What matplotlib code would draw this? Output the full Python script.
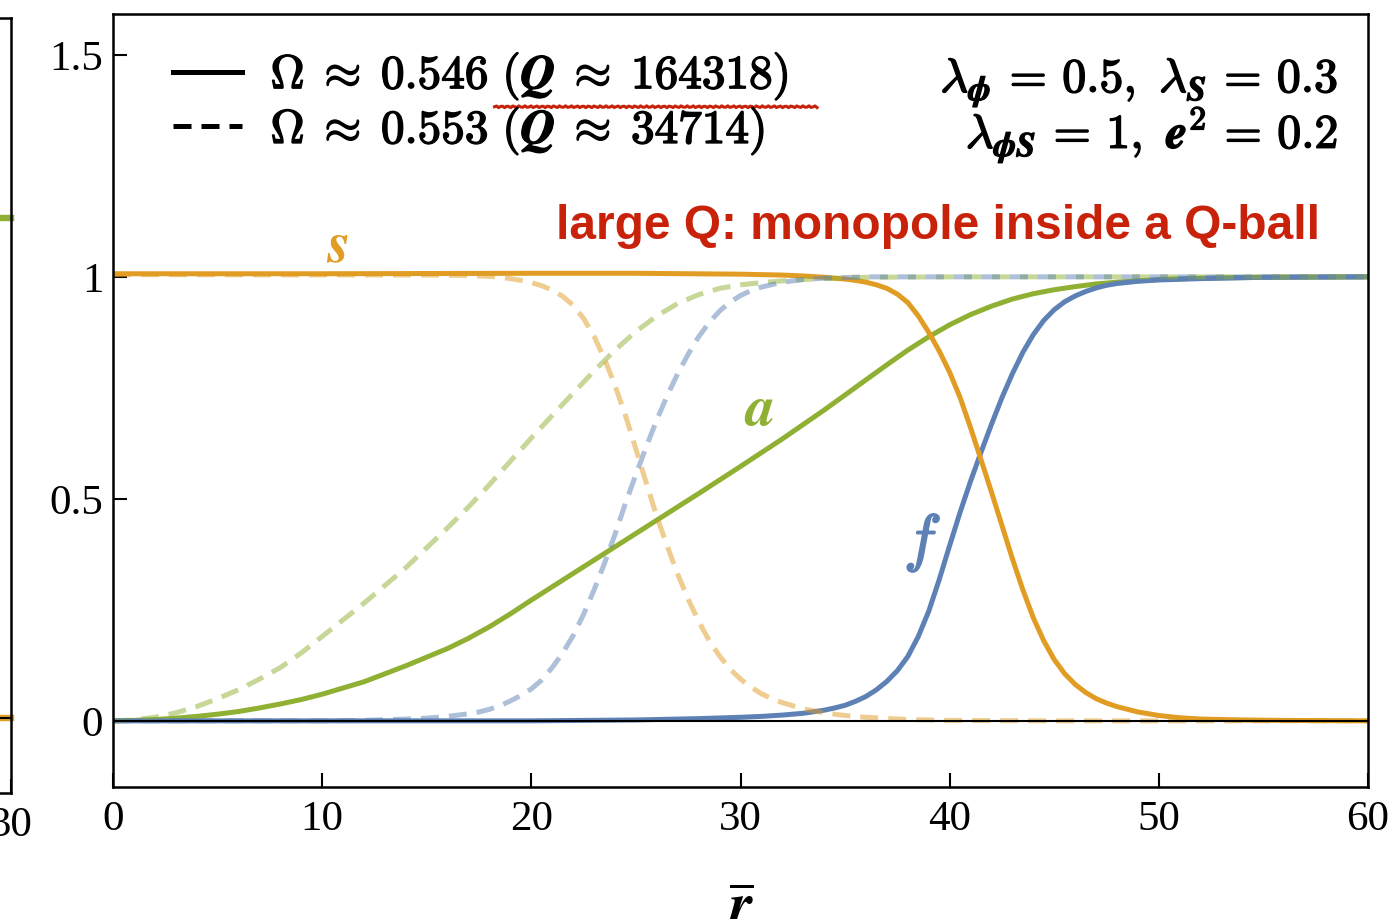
import numpy as np
import matplotlib
matplotlib.use("Agg")
import matplotlib.pyplot as plt
import matplotlib.patheffects as pe
from matplotlib.lines import Line2D

BLUE = "#5E81B5"
ORANGE = "#E19C24"
GREEN = "#8FB032"
RED = "#C8230A"

# Omega ~ 0.546 profiles (solid)
r_s1 = [0, 10, 20, 25, 30, 32, 33, 34, 34.5, 35, 35.5, 36, 36.5, 37, 37.5, 38, 38.5,
        39, 39.5, 40, 40.5, 41, 41.5, 42, 42.5, 43, 43.5, 44, 44.5, 45, 45.5, 46,
        46.5, 47, 47.5, 48, 49, 50, 51, 52, 54, 56, 60]
s1 = [1.007, 1.007, 1.008, 1.008, 1.006, 1.004, 1.002, 0.999, 0.997, 0.995, 0.992,
      0.988, 0.982, 0.974, 0.961, 0.942, 0.912, 0.875, 0.833, 0.785, 0.728, 0.66,
      0.588, 0.515, 0.44, 0.365, 0.295, 0.232, 0.18, 0.138, 0.106, 0.082, 0.064,
      0.05, 0.04, 0.032, 0.02, 0.012, 0.007, 0.004, 0.002, 0.001, 0.0]

r_f1 = [0, 10, 20, 25, 28, 30, 31, 32, 33, 34, 34.5, 35, 35.5, 36, 36.5, 37, 37.5, 38,
        38.5, 39, 39.5, 40, 40.5, 41, 41.5, 42, 42.5, 43, 43.5, 44, 44.5, 45, 45.5,
        46, 46.5, 47, 47.5, 48, 49, 50, 52, 55, 60]
f1 = [0.0, 0.0, 0.0, 0.002, 0.005, 0.008, 0.01, 0.013, 0.017, 0.024, 0.029, 0.035,
      0.044, 0.055, 0.07, 0.089, 0.113, 0.145, 0.19, 0.247, 0.318, 0.395, 0.47, 0.54,
      0.605, 0.668, 0.728, 0.782, 0.83, 0.87, 0.902, 0.926, 0.944, 0.957, 0.967,
      0.975, 0.981, 0.985, 0.99, 0.993, 0.996, 0.999, 1.0]

r_a1 = [0, 1, 2, 3, 4, 5, 6, 7, 8, 9, 10, 12, 14, 16, 17, 18, 19, 20, 21, 22, 24, 26,
        28, 30, 32, 34, 36, 37, 38, 39, 40, 41, 42, 43, 44, 45, 46, 47, 48, 50, 52,
        55, 60]
a1 = [0.0, 0.001, 0.003, 0.006, 0.01, 0.015, 0.021, 0.029, 0.038, 0.048, 0.06, 0.088,
      0.124, 0.163, 0.186, 0.212, 0.241, 0.272, 0.302, 0.332, 0.392, 0.452, 0.512,
      0.573, 0.635, 0.7, 0.768, 0.802, 0.835, 0.865, 0.892, 0.915, 0.934, 0.95, 0.962,
      0.971, 0.978, 0.984, 0.988, 0.994, 0.997, 0.999, 1.0]

# Omega ~ 0.553 profiles (dashed)
r_s2 = [0, 15, 17, 18, 18.5, 19, 19.5, 20, 20.5, 21, 21.5, 22, 22.5, 23, 23.5, 24,
        24.5, 25, 25.5, 26, 26.5, 27, 27.5, 28, 28.5, 29, 29.5, 30, 30.5, 31, 31.5,
        32, 33, 34, 35, 36, 38, 40, 45, 60]
s2 = [1.005, 1.004, 1.003, 1.001, 0.999, 0.996, 0.992, 0.987, 0.98, 0.97, 0.956,
      0.936, 0.906, 0.866, 0.815, 0.755, 0.688, 0.612, 0.535, 0.46, 0.393, 0.33,
      0.274, 0.224, 0.181, 0.146, 0.117, 0.094, 0.076, 0.061, 0.05, 0.041, 0.027,
      0.018, 0.012, 0.008, 0.003, 0.001, 0.0, 0.0]

r_f2 = [0, 10, 12, 14, 15, 16, 17, 17.5, 18, 18.5, 19, 19.5, 20, 20.5, 21, 21.5, 22,
        22.5, 23, 23.5, 24, 24.5, 25, 25.5, 26, 26.5, 27, 27.5, 28, 28.5, 29, 29.5,
        30, 30.5, 31, 32, 33, 34, 36, 60]
f2 = [0.0, 0.0, 0.001, 0.004, 0.006, 0.01, 0.016, 0.02, 0.026, 0.034, 0.045, 0.057,
      0.072, 0.092, 0.12, 0.153, 0.192, 0.24, 0.295, 0.355, 0.42, 0.49, 0.555, 0.618,
      0.678, 0.733, 0.782, 0.826, 0.865, 0.897, 0.923, 0.943, 0.958, 0.969, 0.977,
      0.988, 0.994, 0.997, 1.0, 1.0]

r_a2 = [0, 1, 2, 3, 4, 5, 6, 7, 8, 9, 10, 12, 14, 16, 17, 18, 19, 20, 21, 22, 23, 24,
        25, 26, 27, 28, 29, 30, 31, 32, 33, 34, 36, 40, 60]
a2 = [0.0, 0.002, 0.008, 0.018, 0.032, 0.05, 0.07, 0.094, 0.12, 0.153, 0.19, 0.265,
      0.345, 0.435, 0.482, 0.532, 0.585, 0.637, 0.688, 0.738, 0.788, 0.835, 0.877,
      0.912, 0.94, 0.96, 0.974, 0.982, 0.987, 0.991, 0.994, 0.996, 0.999, 1.0, 1.0]

# neighbouring panel (only its right edge is visible)
r_left = [20, 30]
a_left = [1.128, 1.128]
s_left = [0.0, 0.0]

xticks = [0, 10, 20, 30, 40, 50, 60]
yticks = [0, 0.5, 1, 1.5]
ytick_labels = ["0", "0.5", "1", "1.5"]

legend_labels = [r"$\mathbf{\Omega\;\approx\;0.546\ (}\boldsymbol{Q}\mathbf{\;\approx\;164318)}$",
                 r"$\mathbf{\Omega\;\approx\;0.553\ (}\boldsymbol{Q}\mathbf{\;\approx\;34714)}$"]
param_lines = [r"$\boldsymbol{\lambda}_{\boldsymbol{\phi}}\mathbf{\,=\,0.5,}\ \boldsymbol{\lambda}_{\boldsymbol{S}}\mathbf{\,=\,0.3}$",
               r"$\boldsymbol{\lambda}_{\boldsymbol{\phi S}}\mathbf{\,=\,1,}\ \boldsymbol{e}^{\mathbf{2}}\mathbf{\,=\,0.2}$"]

plt.rcParams["font.family"] = ["Liberation Serif", "DejaVu Serif"]
plt.rcParams["mathtext.fontset"] = "cm"

W, H = 1400, 919
fig = plt.figure(figsize=(14, 9.19), dpi=100)

LW = 3.6
DASH = (3.6, 2.0)
heavy = [pe.withStroke(linewidth=1.1, foreground="black")]

# --- left neighbour panel, mostly outside the figure ---
axl = fig.add_axes([11 / W - 0.4, 1 - 793 / H, 0.4, (793 - 18) / H])
axl.plot(r_left, a_left, color=GREEN, lw=LW + 1, clip_on=False)
axl.plot(r_left, s_left, color=ORANGE, lw=LW + 1, clip_on=False)
axl.axhline(0, color="black", lw=1.5, zorder=3)
axl.set_xlim(0, 30)
axl.set_ylim(-0.17, 1.58)
axl.set_xticks([30])
axl.set_yticks([])
axl.tick_params(axis="x", direction="in", length=10, width=1.5, labelsize=31, pad=10)
for sp in axl.spines.values():
    sp.set_linewidth(1.8)

# --- main panel ---
ax = fig.add_axes([113 / W, 1 - 787 / H, (1368 - 113) / W, (787 - 14) / H])

ax.plot(r_a1, a1, color=GREEN, lw=LW)
ax.plot(r_f1, f1, color=BLUE, lw=LW)
ax.plot(r_s1, s1, color=ORANGE, lw=LW)

ax.plot(r_a2, a2, color=GREEN, lw=LW, alpha=0.5, dashes=DASH)
ax.plot(r_f2, f2, color=BLUE, lw=LW, alpha=0.5, dashes=DASH)
ax.plot(r_s2, s2, color=ORANGE, lw=LW, alpha=0.5, dashes=DASH)

ax.axhline(0, color="black", lw=1.5, zorder=3)

ax.set_xlim(0, 60)
ax.set_ylim(-0.149, 1.592)
ax.set_xticks(xticks)
ax.set_yticks(yticks, labels=ytick_labels)
ax.tick_params(direction="in", length=10, width=1.5, labelsize=31)
ax.tick_params(axis="x", pad=10)
ax.tick_params(axis="y", pad=7)
for sp in ax.spines.values():
    sp.set_linewidth(1.8)

ax.set_xlabel(r"$\overline{\boldsymbol{r}}$", fontsize=42, labelpad=32)

# curve names
ax.text(10.7, 1.065, r"$\boldsymbol{s}$", color=ORANGE, fontsize=42, ha="center", va="center")
ax.text(30.9, 0.696, r"$\boldsymbol{a}$", color=GREEN, fontsize=42, ha="center", va="center")
ax.text(38.7, 0.40, r"$f$", color=BLUE, fontsize=46, ha="center", va="center",
        path_effects=[pe.withStroke(linewidth=1.2, foreground=BLUE)])

# legend for the two solutions
handles = [Line2D([], [], color="black", lw=LW),
           Line2D([], [], color="black", lw=LW, dashes=DASH)]
leg = ax.legend(handles, legend_labels, loc="upper left", bbox_to_anchor=(0.048, 0.952),
                frameon=False, fontsize=34, handlelength=1.46, handletextpad=0.6,
                labelspacing=0.08, borderpad=0, borderaxespad=0)
for t in leg.get_texts():
    t.set_path_effects(heavy)

# couplings
for txt, yb in zip(param_lines, [0.899, 0.827]):
    ax.text(0.976, yb, txt, transform=ax.transAxes, fontsize=34.5,
            ha="right", va="baseline", path_effects=heavy)

ax.text(0.962, 0.709, "large Q: monopole inside a Q-ball", transform=ax.transAxes,
        fontsize=34.5, family="Liberation Sans", weight="bold", color=RED,
        ha="right", va="baseline")

# squiggly underline below the first charge value
ux = np.linspace(0.304, 0.561, 160)
uy = 0.880 + 0.0012 * np.sin(np.arange(160) * 2.2)
ax.plot(ux, uy, color=RED, lw=2.2, transform=ax.transAxes, clip_on=False)

fig.savefig("out.png", dpi=100)
